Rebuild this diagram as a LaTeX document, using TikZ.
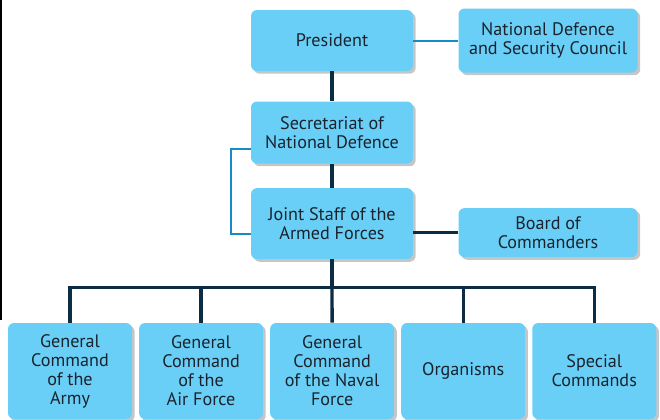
\documentclass[tikz,border=0pt]{standalone}
\usepackage{fontspec}
\setmainfont{PT Sans}
\usepackage{tikz}
\usetikzlibrary{positioning, shadows}
\definecolor{boxblue}{RGB}{106,207,246}
\definecolor{navyline}{RGB}{10,45,69}
\definecolor{linkblue}{RGB}{22,140,196}
\definecolor{textdark}{RGB}{25,35,45}
\tikzstyle{unit} = [rectangle, rounded corners=4.5pt, text centered, align=center, inner sep=1pt, fill=boxblue, text=textdark, font=\fontsize{13.6}{14.25}\selectfont, drop shadow={shadow xshift=2pt, shadow yshift=-2pt, opacity=0.45}]
\tikzstyle{topunit} = [unit, minimum width=121.5pt, minimum height=46.5pt]
\tikzstyle{sideunit} = [unit, minimum width=134.25pt]
\tikzstyle{command} = [unit, minimum width=93pt, minimum height=72pt]
\tikzstyle{trunk} = [navyline, line width=2.5pt]
\tikzstyle{link} = [linkblue, line width=1.5pt]

\begin{document}
\begin{tikzpicture}
\useasboundingbox (0,0) rectangle (495pt,-315pt);
\fill [black] (0,0) rectangle (1.5pt,-240pt);

\node (pres) [topunit, minimum height=45.75pt] at (249pt,-30.4pt) {President};
\node (sec) [topunit, below=22.5pt of pres] {Secretariat of\\National Defence};
\node (js) [topunit, minimum height=53.25pt, below=18pt of sec] {Joint Staff of the\\Armed Forces};
\node (ndsc) [sideunit, minimum height=48pt, right=33.75pt of pres] {National Defence\\and Security Council};
\node (board) [sideunit, minimum height=36.75pt, right=33.75pt of js, yshift=-6.75pt] {Board of\\Commanders};

\node (army) [command] at (52.5pt,-278.25pt) {General\\Command\\of the\\Army};
\node (air) [command, right=4.9pt of army] {General\\Command\\of the\\Air Force};
\node (naval) [command, right=4.9pt of air] {General\\Command\\of the Naval\\Force};
\node (org) [command, right=4.9pt of naval] {Organisms};
\node (special) [command, right=4.9pt of org] {Special\\Commands};

\draw [link] (ndsc.west -| pres.east) -- (ndsc.west);
\draw [trunk] (pres.south) -- (sec.north);
\draw [trunk] (sec.south) -- (js.north);
\draw [link] ([yshift=-12pt]sec.west) -- ++(-15pt,0) |- ([yshift=-7.9pt]js.west);
\draw [trunk] (board.west) -- (board.west -| js.east);
\draw [trunk] (js.south) -- ++(0,-21pt) coordinate (bus);
\draw [trunk] (bus) -| (army.north);
\draw [trunk] (bus) -| (air.north);
\draw [trunk] (bus) -- (naval.north);
\draw [trunk] (bus) -| (org.north);
\draw [trunk] (bus) -| (special.north);
\end{tikzpicture}
\end{document}
